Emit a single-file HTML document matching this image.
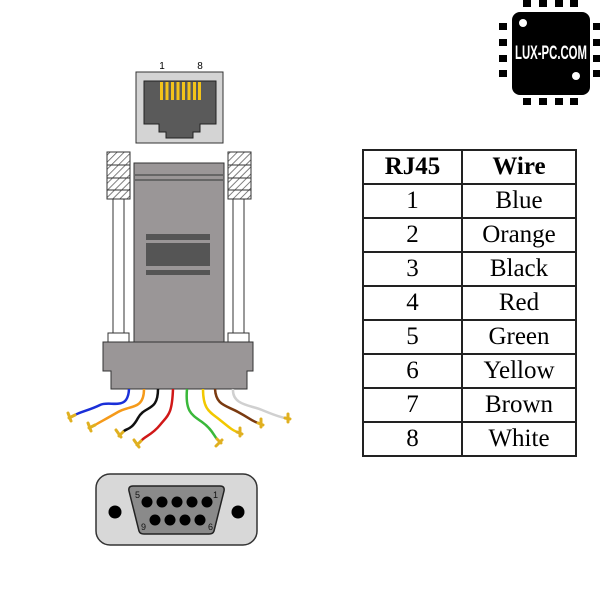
<!DOCTYPE html>
<html><head><meta charset="utf-8"><style>
body{margin:0;background:#fff;width:600px;height:600px;overflow:hidden;position:relative}
svg{position:absolute;left:0;top:0}
table{position:absolute;left:362px;top:149px;border-collapse:collapse;font-family:"Liberation Serif",serif;font-size:25px}
tr{height:34px}
td{border:2px solid #222;padding:0;text-align:center;line-height:30px}
td.a{width:97px}td.b{width:112px}
th{border:2px solid #222;font-weight:bold;padding:0}
</style></head><body>
<svg width="600" height="600" viewBox="0 0 600 600">
<defs>
<pattern id="h" width="5" height="5" patternUnits="userSpaceOnUse" patternTransform="rotate(45)"><rect width="5" height="5" fill="#fff"/><line x1="0" y1="0" x2="0" y2="5" stroke="#555" stroke-width="1.5"/></pattern>
</defs>
<g fill="#000">
<rect x="512" y="12" width="78" height="83" rx="8"/>
<rect x="523" y="0" width="8" height="7"/><rect x="539" y="0" width="8" height="7"/><rect x="555" y="0" width="8" height="7"/><rect x="570" y="0" width="8" height="7"/>
<rect x="523" y="98" width="8" height="7"/><rect x="539" y="98" width="8" height="7"/><rect x="555" y="98" width="8" height="7"/><rect x="570" y="98" width="8" height="7"/>
<rect x="499" y="23" width="8" height="7"/><rect x="499" y="39" width="8" height="7"/><rect x="499" y="55" width="8" height="7"/><rect x="499" y="70" width="8" height="7"/>
<rect x="593" y="23" width="7" height="7"/><rect x="593" y="39" width="7" height="7"/><rect x="593" y="55" width="7" height="7"/><rect x="593" y="70" width="7" height="7"/>
</g>
<circle cx="523" cy="23" r="4" fill="#fff"/><circle cx="576" cy="76" r="4" fill="#fff"/>
<text x="551" y="59" fill="#fff" font-family="Liberation Sans Narrow,Liberation Sans,sans-serif" font-weight="bold" font-size="19" text-anchor="middle" textLength="72" lengthAdjust="spacingAndGlyphs">LUX-PC.COM</text>
<text x="162" y="69" font-family="Liberation Sans,sans-serif" font-size="10" text-anchor="middle">1</text>
<text x="200" y="69" font-family="Liberation Sans,sans-serif" font-size="10" text-anchor="middle">8</text>
<rect x="136" y="72" width="87" height="71" fill="#d4d4d4" stroke="#333" stroke-width="1"/>
<path d="M144 81H216V124H200V132H193V138H166V132H159V124H144Z" fill="#5a5a5a" stroke="#222" stroke-width="1"/>
<g fill="#f2c31a"><rect x="160" y="82" width="3" height="18"/><rect x="165.5" y="82" width="3" height="18"/><rect x="171" y="82" width="3" height="18"/><rect x="176.5" y="82" width="3" height="18"/><rect x="182" y="82" width="3" height="18"/><rect x="187.5" y="82" width="3" height="18"/><rect x="193" y="82" width="3" height="18"/><rect x="198" y="82" width="3" height="18"/></g>
<g stroke="#333" stroke-width="1">
<rect x="107" y="152" width="23" height="47" fill="url(#h)"/><line x1="107" y1="165" x2="130" y2="165"/><line x1="107" y1="178" x2="130" y2="178"/><line x1="107" y1="190" x2="130" y2="190"/>
<rect x="228" y="152" width="23" height="47" fill="url(#h)"/><line x1="228" y1="165" x2="251" y2="165"/><line x1="228" y1="178" x2="251" y2="178"/><line x1="228" y1="190" x2="251" y2="190"/>
<rect x="113" y="199" width="11" height="134" fill="#fff"/><rect x="233" y="199" width="11" height="134" fill="#fff"/>
<rect x="108" y="333" width="21" height="9" fill="#fff"/><rect x="228" y="333" width="21" height="9" fill="#fff"/>
<rect x="134" y="163" width="90" height="180" fill="#9a9697"/>
</g>
<rect x="135" y="174" width="88" height="2" fill="#666"/><rect x="135" y="179" width="88" height="2" fill="#666"/>
<rect x="146" y="234" width="64" height="6" fill="#555"/><rect x="146" y="243" width="64" height="23" fill="#555"/><rect x="146" y="270" width="64" height="5" fill="#555"/>
<path d="M103 342H253V371H247V389H111V371H103Z" fill="#9a9697" stroke="#333" stroke-width="1"/>
<g fill="none" stroke-width="2.5">
<path d="M129 389C128 412 110 400 100 405S80 412 75 415" stroke="#1a2fd8"/>
<path d="M144 389C144 410 130 405 118 412S100 422 95 425" stroke="#f59a1a"/>
<path d="M158 389C158 412 145 405 138 418S126 428 123 432" stroke="#111"/>
<path d="M173 389C172 415 168 415 160 425S145 436 141 441" stroke="#d01818"/>
<path d="M187 389C185 412 192 415 202 422S214 436 217 439" stroke="#3ab83a"/>
<path d="M203 389C203 410 210 412 220 420S232 430 237 432" stroke="#f2c800"/>
<path d="M215 389C216 405 225 405 238 412S252 421 258 423" stroke="#7a3a10"/>
<path d="M233 389C232 405 250 405 262 410S280 417 285 418" stroke="#d0d0d0"/>
</g>
<g stroke="#e0b020" stroke-width="3" stroke-linecap="round">
<path d="M75 415l-6 3M68 413l3 8"/><path d="M95 425l-6 3M88 423l3 8"/><path d="M123 432l-4 4M116 430l5 7"/><path d="M141 441l-4 4M134 440l5 7"/>
<path d="M217 439l4 4M216 446l6-6"/><path d="M237 432l5 2M240 428l0 8"/><path d="M258 423l5 2M261 419l0 8"/><path d="M285 418l5 1M288 414l0 8"/>
</g>
<rect x="96" y="474" width="161" height="71" rx="14" fill="#d8d8d8" stroke="#333" stroke-width="1.5"/>
<path d="M133 486H220Q225 486 224 491L214 531Q213 534 209 534H144Q140 534 139 531L129 491Q128 486 133 486Z" fill="#8a8a8a" stroke="#222" stroke-width="1.5"/>
<g fill="#000"><circle cx="115" cy="512" r="6.5"/><circle cx="238" cy="512" r="6.5"/>
<circle cx="147" cy="502" r="5.5"/><circle cx="162" cy="502" r="5.5"/><circle cx="177" cy="502" r="5.5"/><circle cx="192" cy="502" r="5.5"/><circle cx="207" cy="502" r="5.5"/>
<circle cx="155" cy="520" r="5.5"/><circle cx="170" cy="520" r="5.5"/><circle cx="185" cy="520" r="5.5"/><circle cx="200" cy="520" r="5.5"/></g>
<g font-family="Liberation Sans,sans-serif" font-size="9" fill="#111"><text x="135" y="498">5</text><text x="213" y="498">1</text><text x="141" y="530">9</text><text x="208" y="530">6</text></g>
</svg>
<table>
<tr><th>RJ45</th><th>Wire</th></tr>
<tr><td class="a">1</td><td class="b">Blue</td></tr>
<tr><td>2</td><td>Orange</td></tr>
<tr><td>3</td><td>Black</td></tr>
<tr><td>4</td><td>Red</td></tr>
<tr><td>5</td><td>Green</td></tr>
<tr><td>6</td><td>Yellow</td></tr>
<tr><td>7</td><td>Brown</td></tr>
<tr><td>8</td><td>White</td></tr>
</table>
</body></html>
